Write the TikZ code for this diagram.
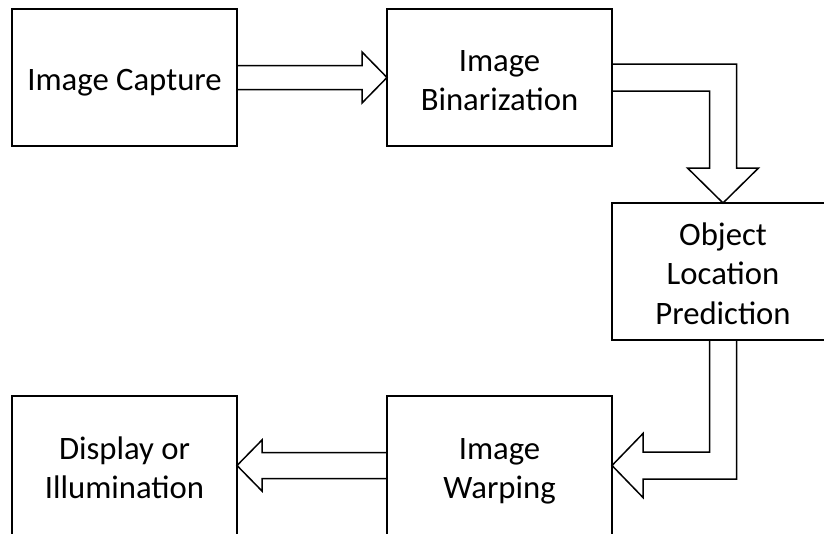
\documentclass[tikz,border=0pt]{standalone}
\usepackage{fontspec}
\setmainfont{Carlito}
\usepackage{tikz}
\usetikzlibrary{positioning}
\usetikzlibrary{calc}
\newcommand{\boxtext}[1]{\begin{tabular}{@{}c@{}}\rule{0pt}{38.6pt}#1\end{tabular}}
\tikzstyle{stage} = [rectangle, minimum width=225pt, minimum height=137pt, outer sep=0pt, draw=black, line width=1.8pt, font=\fontsize{32.7}{39.5}\selectfont]
\tikzstyle{hollow} = [draw=black, line width=1.5pt, line join=miter]

\begin{document}
\begin{tikzpicture}[x=1pt, y=1pt, node distance=150pt]
        \useasboundingbox (0,0) rectangle (824,-533);
        \clip (0,0) rectangle (824,-533);
        \node (cap) [stage] at (124.5,-77.5) {\boxtext{Image Capture}};
        \node (bin) [stage, right=150pt of cap] {\boxtext{Image\\Binarization}};
        \node (obj) [stage, minimum width=222pt, below right=57pt and 0pt of bin] {\boxtext{Object\\Location\\Prediction}};
        \node (warp) [stage, minimum height=139pt, below left=56pt and 0pt of obj] {\boxtext{Image\\Warping}};
        \node (disp) [stage, minimum height=139pt, left=150pt of warp] {\boxtext{Display or\\Illumination}};

        \draw [hollow] ($(cap.east)+(0,12)$) -- ($(bin.west)+(-25,12)$) -- ($(bin.west)+(-25,25.5)$) -- (bin.west) -- ($(bin.west)+(-25,-25.5)$) -- ($(bin.west)+(-25,-12)$) -- ($(cap.east)+(0,-12)$);
        \draw [hollow] ($(bin.east)+(0,13.5)$) -| ($(obj.north)+(13.5,35)$) -- ($(obj.north)+(35.5,35)$) -- (obj.north) -- ($(obj.north)+(-35.5,35)$) -- ($(obj.north)+(-13.5,35)$) |- ($(bin.east)+(0,-13.5)$);
        \draw [hollow] ($(obj.south)+(-13.5,0)$) |- ($(warp.east)+(31,13.5)$) -- ($(warp.east)+(31,32)$) -- (warp.east) -- ($(warp.east)+(31,-32)$) -- ($(warp.east)+(31,-13.5)$) -| ($(obj.south)+(13.5,0)$);
        \draw [hollow] ($(warp.west)+(0,13)$) -- ($(disp.east)+(25,13)$) -- ($(disp.east)+(25,25.5)$) -- (disp.east) -- ($(disp.east)+(25,-25.5)$) -- ($(disp.east)+(25,-13)$) -- ($(warp.west)+(0,-13)$);
    \end{tikzpicture}
\end{document}
